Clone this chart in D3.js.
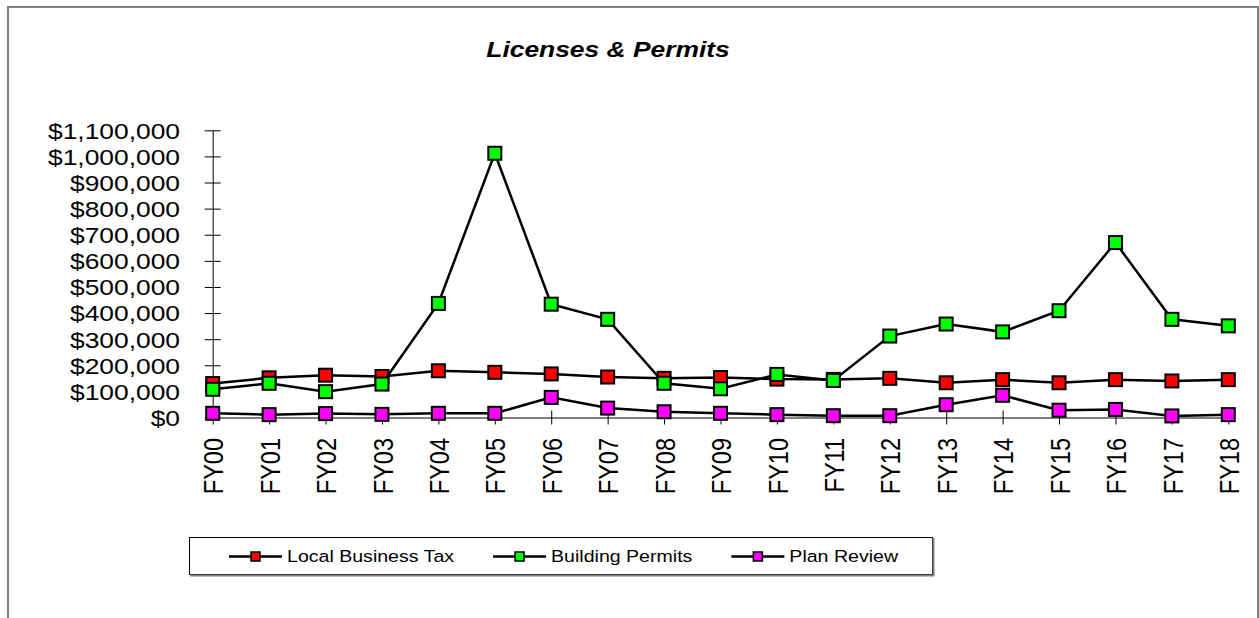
<!DOCTYPE html>
<html>
  <head>
    <title>Licenses &amp; Permits</title>
    <script src="https://cdn.jsdelivr.net/npm/d3@7"></script>
    <style>
      body { margin: 0; background: #fff; }
      text { font-family: "Liberation Sans", Arial, sans-serif; }
    </style>
  </head>
  <body>
    <svg width="1259" height="618" id="mainsvg"></svg>
    <script>

    // values
    const categories = ['FY00','FY01','FY02','FY03','FY04','FY05','FY06','FY07','FY08','FY09',
                        'FY10','FY11','FY12','FY13','FY14','FY15','FY16','FY17','FY18'];
    const localBusinessTax = [130000,152000,162000,157000,179000,173000,167000,155000,150000,153000,
                              147000,146000,150000,133000,145000,133000,145000,140000,145000];
    const buildingPermits = [108000,131000,99000,128000,437000,1012000,434000,376000,131000,110000,
                             165000,142000,312000,358000,328000,409000,670000,376000,351000];
    const planReview = [16000,11000,15000,12000,16000,16000,77000,36000,22000,16000,
                        11000,7000,7000,49000,85000,28000,31000,6000,11000];
    const seriesNames = ['Local Business Tax', 'Building Permits', 'Plan Review'];
    const seriesColors = ['#ff0000', '#00ff00', '#ff00ff'];
    const yTicks = d3.range(0, 1100001, 100000);

    const svg = d3.select('svg');

    // outer chart frame
    svg.append('rect')
      .attr('x', 8).attr('y', 7)
      .attr('width', 1250).attr('height', 700)
      .attr('fill', 'none')
      .attr('stroke', '#808080')
      .attr('stroke-width', 2);

    // text in the original is stretched sideways a bit
    const sx = 1.2;

    svg.append('text')
      .attr('transform', `translate(608,57) scale(${sx},1)`)
      .attr('text-anchor', 'middle')
      .style('font-size', '22px')
      .style('font-weight', 'bold')
      .style('font-style', 'italic')
      .text('Licenses & Permits');

    const x = d3.scalePoint().domain(categories).range([212.7, 1228.3]);
    const y = d3.scaleLinear().domain([0, 1100000]).range([417.5, 130.3]);

    // x axis
    const gx = svg.append('g')
      .attr('transform', `translate(0,${y(0)})`)
      .call(d3.axisBottom(x).tickSizeOuter(0).tickSizeInner(7));
    gx.select('.domain').attr('stroke', '#808080').attr('stroke-width', 2);
    gx.selectAll('.tick line').attr('y1', -7).attr('y2', 7).attr('stroke', '#000');
    gx.selectAll('.tick text')
      .attr('x', 0).attr('y', 0).attr('dy', '0.36em')
      .attr('text-anchor', 'end')
      .attr('fill', '#000')
      .style('font-size', '23.5px')
      .attr('transform', `translate(0,20.5) scale(${sx},1) rotate(-90)`);

    // y axis
    const gy = svg.append('g')
      .attr('transform', `translate(${x('FY00')},0)`)
      .call(d3.axisLeft(y).tickValues(yTicks).tickSizeOuter(0)
        .tickFormat(d => '$' + d3.format(',')(d)));
    gy.select('.domain').attr('stroke', '#000');
    gy.selectAll('.tick line').attr('x1', -8).attr('x2', 8).attr('stroke', '#000');
    gy.selectAll('.tick text')
      .attr('x', 0).attr('dy', '0.36em')
      .attr('fill', '#000')
      .style('font-size', '22px')
      .attr('transform', `translate(-32.7,0) scale(${sx},1)`);

    // series: line then markers, one series after another
    const allSeries = [localBusinessTax, buildingPermits, planReview];
    const line = d3.line()
      .x((d, i) => x(categories[i]))
      .y(d => y(d));
    const ms = 13;

    allSeries.forEach((vals, s) => {
      const g = svg.append('g');
      g.append('path')
        .datum(vals)
        .attr('d', line)
        .attr('fill', 'none')
        .attr('stroke', '#000')
        .attr('stroke-width', 2.5);
      g.selectAll('rect')
        .data(vals)
        .enter().append('rect')
        .attr('x', (d, i) => x(categories[i]) - ms / 2)
        .attr('y', d => y(d) - ms / 2)
        .attr('width', ms).attr('height', ms)
        .attr('fill', seriesColors[s])
        .attr('stroke', '#000')
        .attr('stroke-width', 2);
    });

    // legend
    const lg = svg.append('g');
    lg.append('rect')
      .attr('x', 189.5).attr('y', 537.5)
      .attr('width', 743).attr('height', 37)
      .attr('fill', '#fff')
      .attr('stroke', '#000');
    lg.append('path')
      .attr('d', 'M190,575.5H933.5V538')
      .attr('fill', 'none')
      .attr('stroke', '#808080')
      .attr('stroke-width', 2);

    let cx = 229;
    const ly = 556.5;
    seriesNames.forEach((name, s) => {
      lg.append('line')
        .attr('x1', cx).attr('x2', cx + 53)
        .attr('y1', ly).attr('y2', ly)
        .attr('stroke', '#000').attr('stroke-width', 2.5);
      lg.append('rect')
        .attr('x', cx + 26.5 - 4.5).attr('y', ly - 4.5)
        .attr('width', 9).attr('height', 9)
        .attr('fill', seriesColors[s])
        .attr('stroke', '#000').attr('stroke-width', 1.5);
      const t = lg.append('text')
        .attr('transform', `translate(${cx + 58},${ly}) scale(${sx},1)`)
        .attr('dy', '0.36em')
        .style('font-size', '16.3px')
        .text(name);
      cx += 58 + t.node().getComputedTextLength() * sx + 39;
    });

  </script>
  </body>
</html>
